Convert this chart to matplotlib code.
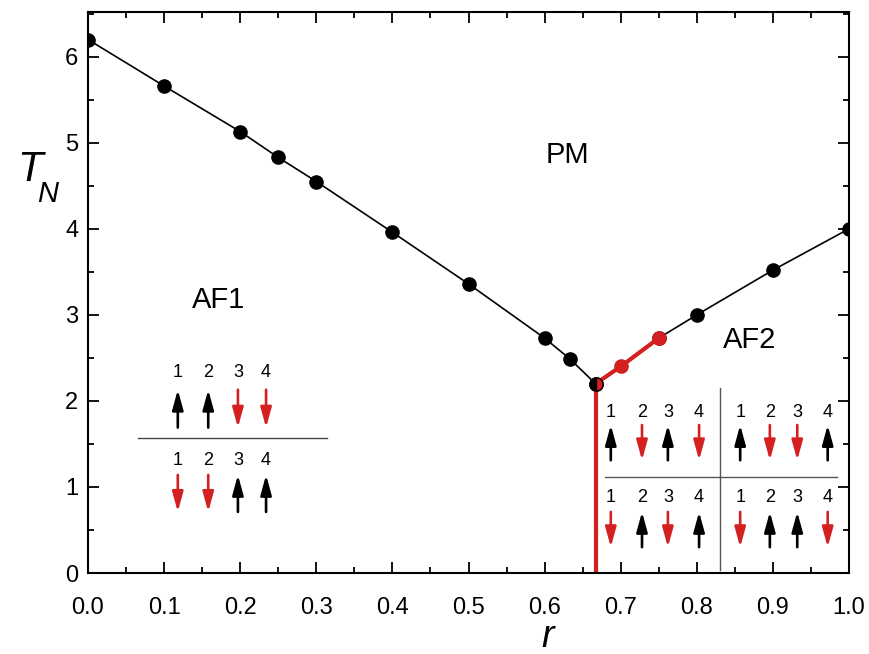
import matplotlib
matplotlib.use("Agg")
import matplotlib.pyplot as plt
from matplotlib.ticker import MultipleLocator

# phase boundary T_N(r)
r_af1 = [0.0, 0.1, 0.2, 0.25, 0.3, 0.4, 0.5, 0.6, 0.633, 0.667]
t_af1 = [6.2, 5.66, 5.13, 4.83, 4.55, 3.96, 3.36, 2.73, 2.49, 2.2]
r_red = [0.667, 0.7, 0.75]
t_red = [2.2, 2.4, 2.73]
r_af2 = [0.75, 0.8, 0.9, 1.0]
t_af2 = [2.73, 3.0, 3.52, 4.0]
r_crit = 0.667
t_crit = 2.2

RED = "#d42020"
FONT = ["Liberation Sans", "DejaVu Sans"]

# spin configurations (+1 up / -1 down)
af1_rows = [[1, 1, -1, -1], [-1, -1, 1, 1]]
af2_cells = [[[1, -1, 1, -1], [1, -1, -1, 1]],
             [[-1, 1, -1, 1], [-1, 1, 1, -1]]]

W, H = 869, 654
fig = plt.figure(figsize=(W / 100, H / 100), dpi=100)
ax = fig.add_axes([88 / W, 81 / H, 761 / W, 561 / H])

ax.plot(r_af1, t_af1, "-o", color="black", lw=1.2, ms=9.5)
ax.plot(r_af2, t_af2, "-o", color="black", lw=1.2, ms=9.5)
ax.plot(r_red, t_red, "-o", color=RED, lw=3, ms=9.5)
ax.plot([r_crit, r_crit], [0, t_crit], color=RED, lw=3)
ax.plot([r_crit], [t_crit], "o", ms=9.5, fillstyle="left",
        markerfacecolor="black", markerfacecoloralt=RED, markeredgecolor="black")


def spin_row(xs, y_num, y0, y1, spins):
    for x, i, s in zip(xs, range(1, 5), spins):
        ax.text(x, y_num, str(i), ha="center", va="center", fontsize=13, family=FONT)
        c = "black" if s > 0 else RED
        a, b = (y0, y1) if s > 0 else (y1, y0)
        ax.annotate("", xy=(x, b), xytext=(x, a),
                    arrowprops=dict(arrowstyle="-|>,head_width=0.33,head_length=1.2",
                                    color=c, lw=1.9, shrinkA=0, shrinkB=0))


# AF1 diagram
xs1 = [0.118, 0.158, 0.197, 0.234]
spin_row(xs1, 2.33, 1.69, 2.13, af1_rows[0])
spin_row(xs1, 1.31, 0.71, 1.14, af1_rows[1])
ax.plot([0.066, 0.314], [1.57, 1.57], color="#444444", lw=1)

# AF2 diagram
xs_l = [0.687, 0.728, 0.762, 0.803]
xs_r = [0.857, 0.896, 0.932, 0.972]
spin_row(xs_l, 1.87, 1.31, 1.72, af2_cells[0][0])
spin_row(xs_r, 1.87, 1.31, 1.72, af2_cells[0][1])
spin_row(xs_l, 0.88, 0.30, 0.71, af2_cells[1][0])
spin_row(xs_r, 0.88, 0.30, 0.71, af2_cells[1][1])
ax.plot([0.68, 0.984], [1.12, 1.12], color="#555555", lw=1)
ax.plot([0.83, 0.83], [0.03, 2.15], color="#555555", lw=1)

ax.text(0.171, 3.17, "AF1", ha="center", va="center", fontsize=21, family=FONT)
ax.text(0.63, 4.86, "PM", ha="center", va="center", fontsize=21, family=FONT)
ax.text(0.87, 2.71, "AF2", ha="center", va="center", fontsize=21, family=FONT)

ax.set_xlim(0, 1)
ax.set_ylim(0, 6.52)
ax.xaxis.set_major_locator(MultipleLocator(0.1))
ax.xaxis.set_minor_locator(MultipleLocator(0.05))
ax.yaxis.set_major_locator(MultipleLocator(1))
ax.yaxis.set_minor_locator(MultipleLocator(0.5))
ax.tick_params(which="both", direction="in", top=True, right=True, width=1.3)
ax.tick_params(which="major", length=8, labelsize=17)
ax.tick_params(axis="x", which="major", pad=17)
ax.tick_params(axis="y", which="major", pad=7)
ax.tick_params(which="minor", length=4.5)
ax.set_xticklabels([f"{v:.1f}" for v in ax.get_xticks()])
for lab in ax.get_xticklabels() + ax.get_yticklabels():
    lab.set_family(["Liberation Sans Narrow", "Liberation Sans"])
for sp in ax.spines.values():
    sp.set_linewidth(1.5)

# axis titles
fig.text(30 / W, 1 - 170 / H, "T", style="italic", fontsize=30, family=FONT,
         ha="center", va="center")
fig.text(48 / W, 1 - 194 / H, "N", style="italic", fontsize=21, family=FONT,
         ha="center", va="center")
fig.text(548 / W, 1 - 647 / H, "r", style="italic", fontsize=27, family=FONT,
         ha="center", va="baseline")

fig.savefig("out.png", dpi=100)
